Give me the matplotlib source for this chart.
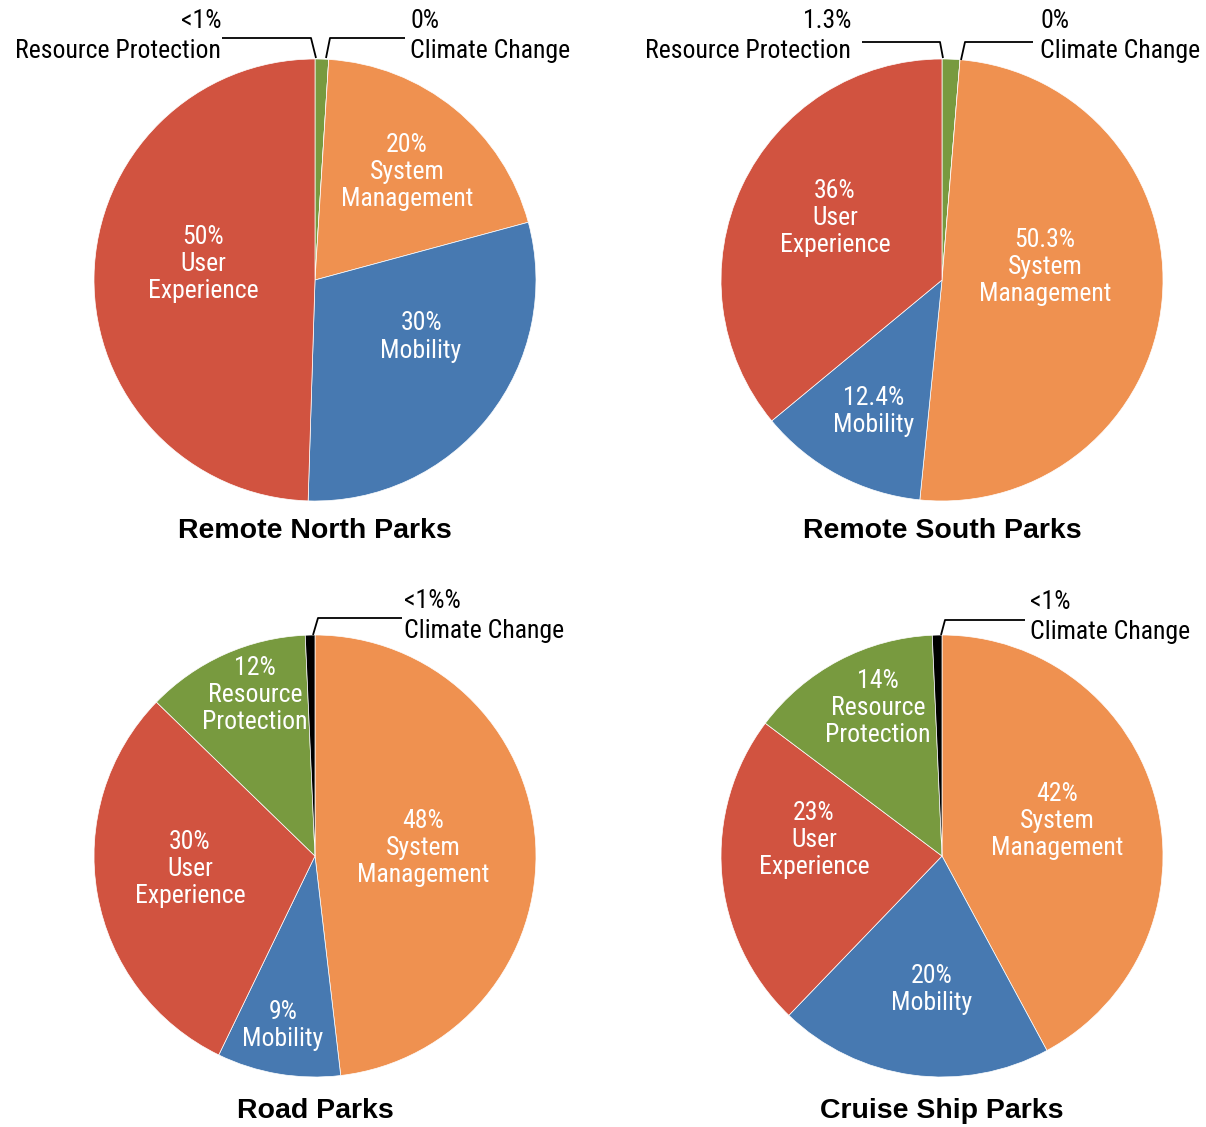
import matplotlib
matplotlib.use("Agg")
import matplotlib.pyplot as plt

W, H = 1206, 1127
R = 221

# pie data, clockwise from 12 o'clock
titles = ["Remote North Parks", "Remote South Parks", "Road Parks", "Cruise Ship Parks"]
cats = [
    ["Resource Protection", "Climate Change", "System Management", "Mobility", "User Experience"],
    ["Resource Protection", "Climate Change", "System Management", "Mobility", "User Experience"],
    ["System Management", "Mobility", "User Experience", "Resource Protection", "Climate Change"],
    ["System Management", "Mobility", "User Experience", "Resource Protection", "Climate Change"],
]
values = [
    [1, 0, 20, 30, 50],
    [1.3, 0, 50.3, 12.4, 36],
    [48, 9, 30, 12, 0.7],
    [42, 20, 23, 14, 0.7],
]
labels = [
    ["<1%", "0%", "20%", "30%", "50%"],
    ["1.3%", "0%", "50.3%", "12.4%", "36%"],
    ["48%", "9%", "30%", "12%", "<1%%"],
    ["42%", "20%", "23%", "14%", "<1%"],
]

colors = {
    "System Management": "#EF9150",
    "Mobility": "#4779B1",
    "User Experience": "#D15340",
    "Resource Protection": "#789A3F",
    "Climate Change": "#000000",
}
inside_text = {
    "System Management": "System\nManagement",
    "Mobility": "Mobility",
    "User Experience": "User\nExperience",
    "Resource Protection": "Resource\nProtection",
}

# layout (pixels, top-left origin)
centers = [(315, 280), (942, 280), (315, 856), (942, 856)]
title_y = [531, 531, 1111, 1111]
# inner label offsets as fraction of radius (x right, y up)
inner_pos = [
    {"System Management": (0.416, 0.489), "Mobility": (0.48, -0.258), "User Experience": (-0.507, 0.072)},
    {"System Management": (0.466, 0.059), "Mobility": (-0.308, -0.593), "User Experience": (-0.484, 0.281)},
    {"System Management": (0.489, 0.036), "Mobility": (-0.145, -0.769), "User Experience": (-0.566, -0.059),
     "Resource Protection": (-0.271, 0.729)},
    {"System Management": (0.52, 0.158), "Mobility": (-0.045, -0.606), "User Experience": (-0.579, 0.072),
     "Resource Protection": (-0.29, 0.67)},
]
# outer callouts: category, text anchor (x, y), ha, leader polyline
callouts = [
    [("Resource Protection", (221, 36), "right", [(222, 38), (311, 38), (316, 58)]),
     ("Climate Change", (410, 36), "left", [(405, 38), (330, 38), (326, 58)])],
    [("Resource Protection", (851, 36), "right", [(862, 42), (940, 42), (943, 58)]),
     ("Climate Change", (1040, 36), "left", [(1033, 42), (965, 42), (961, 60)])],
    [("Climate Change", (404, 616), "left", [(402, 618), (318, 618), (313, 635)])],
    [("Climate Change", (1030, 617), "left", [(1025, 620), (945, 620), (941, 635)])],
]

NARROW = ["Roboto Condensed", "Archivo Narrow", "DejaVu Sans"]
FS = 18.5


def Y(py):
    return H - py


fig = plt.figure(figsize=(W / 100, H / 100), dpi=100)
ax = fig.add_axes([0, 0, 1, 1])

for i in range(4):
    cx, cy = centers[i]
    ax.pie(values[i], colors=[colors[c] for c in cats[i]], startangle=90, counterclock=False,
           center=(cx, Y(cy)), radius=R, wedgeprops=dict(edgecolor="white", linewidth=0.5),
           frame=True)
    for c, lab in zip(cats[i], labels[i]):
        if c in inner_pos[i]:
            dx, dy = inner_pos[i][c]
            ax.text(cx + dx * R, Y(cy) + dy * R, lab + "\n" + inside_text[c], color="white",
                    ha="center", va="center", fontsize=FS, family=NARROW, linespacing=1.16)
    for c, (tx, ty), ha, pts in callouts[i]:
        lab = labels[i][cats[i].index(c)]
        ax.text(tx, Y(ty), lab + "\n" + c, ha=ha, va="center", fontsize=FS, family=NARROW,
                linespacing=1.28, multialignment=ha, color="black")
        ax.plot([p[0] for p in pts], [Y(p[1]) for p in pts], color="black", lw=1.3,
                solid_capstyle="butt")
    ax.text(cx, Y(title_y[i]), titles[i], ha="center", va="center", fontsize=20.5,
            fontweight="bold", family=["Liberation Sans", "DejaVu Sans"])

ax.set_xlim(0, W)
ax.set_ylim(0, H)
ax.set_aspect("equal")
ax.axis("off")
fig.savefig("out.png", dpi=100, facecolor="white")
